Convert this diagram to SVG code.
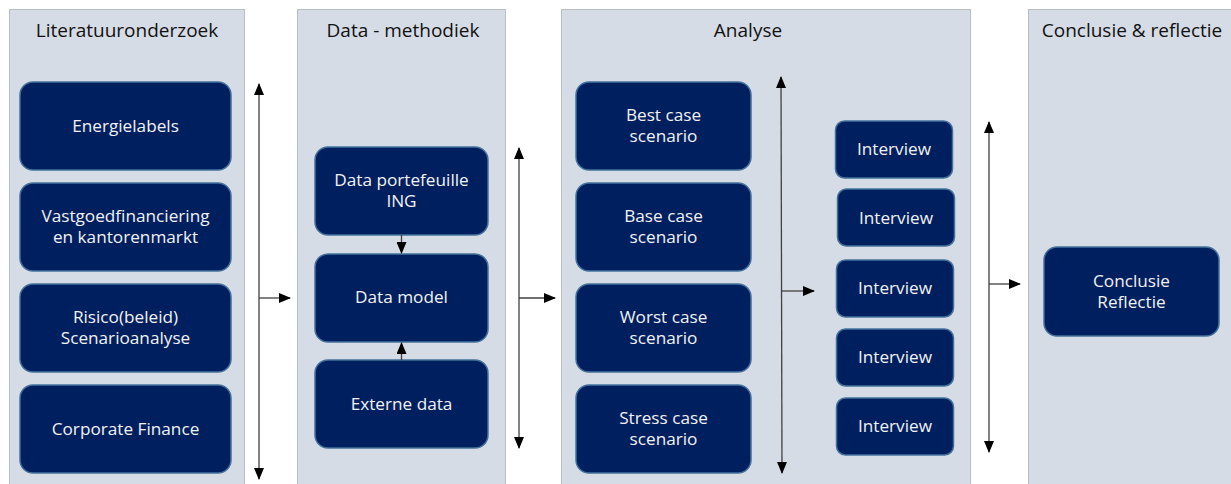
<svg xmlns="http://www.w3.org/2000/svg" width="1231" height="484" viewBox="0 0 1231 484">
  <style>
    .panel { fill: #D6DCE5; stroke: #B8BEC6; stroke-width: 1; }
    .title { font-family: "Open Sans", "Noto Sans", sans-serif; font-size: 19px; fill: #111111; text-anchor: middle; }
    .box { fill: #001F5F; stroke: #41719C; stroke-width: 1.5; }
    .label { font-family: "Open Sans", "Noto Sans", sans-serif; font-size: 17.2px; fill: #F2F2F2; text-anchor: middle; }
    .conn { stroke: #404040; stroke-width: 1.3; fill: none; }
  </style>
  <defs>
    <marker id="head" viewBox="0 0 12 10" refX="11" refY="5" markerWidth="12" markerHeight="10" markerUnits="userSpaceOnUse" orient="auto-start-reverse">
      <path d="M0,0 L12,5 L0,10 Z" fill="#000000"/>
    </marker>
  </defs>
  <rect width="1231" height="484" fill="#FFFFFF"/>

  <!-- column backgrounds -->
  <g id="panels">
    <rect class="panel" x="9.5" y="9.5" width="235" height="480"/>
    <rect class="panel" x="297.5" y="9.5" width="208" height="480"/>
    <rect class="panel" x="561.5" y="9.5" width="409" height="480"/>
    <rect class="panel" x="1028.5" y="9.5" width="210" height="480"/>
  </g>

  <g id="titles">
    <text class="title" x="127" y="37">Literatuuronderzoek</text>
    <text class="title" x="403" y="37">Data - methodiek</text>
    <text class="title" x="748" y="37">Analyse</text>
    <text class="title" x="1132" y="37">Conclusie &amp; reflectie</text>
  </g>

  <!-- literature column -->
  <g id="energielabels">
    <rect class="box" x="20" y="82" width="211" height="88" rx="13"/>
    <text class="label" x="125.5" y="132">Energielabels</text>
  </g>
  <g id="vastgoed">
    <rect class="box" x="20" y="183" width="211" height="88" rx="13"/>
    <text class="label" x="125.5" y="222">Vastgoedfinanciering</text>
    <text class="label" x="125.5" y="243">en kantorenmarkt</text>
  </g>
  <g id="risico">
    <rect class="box" x="20" y="284" width="211" height="88" rx="13"/>
    <text class="label" x="125.5" y="323">Risico(beleid)</text>
    <text class="label" x="125.5" y="344">Scenarioanalyse</text>
  </g>
  <g id="corporate-finance">
    <rect class="box" x="20" y="385" width="211" height="88" rx="13"/>
    <text class="label" x="125.5" y="435">Corporate Finance</text>
  </g>

  <!-- data column -->
  <g id="data-portefeuille">
    <rect class="box" x="315" y="147" width="173" height="88" rx="13"/>
    <text class="label" x="401.5" y="186">Data portefeuille</text>
    <text class="label" x="401.5" y="207">ING</text>
  </g>
  <g id="data-model">
    <rect class="box" x="315" y="254" width="173" height="88" rx="13"/>
    <text class="label" x="401.5" y="303">Data model</text>
  </g>
  <g id="externe-data">
    <rect class="box" x="315" y="360" width="173" height="88" rx="13"/>
    <text class="label" x="401.5" y="410">Externe data</text>
  </g>

  <!-- analysis column -->
  <g id="best-case">
    <rect class="box" x="576" y="82" width="175" height="88" rx="13"/>
    <text class="label" x="663.5" y="121">Best case</text>
    <text class="label" x="663.5" y="142">scenario</text>
  </g>
  <g id="base-case">
    <rect class="box" x="576" y="183" width="175" height="88" rx="13"/>
    <text class="label" x="663.5" y="222">Base case</text>
    <text class="label" x="663.5" y="243">scenario</text>
  </g>
  <g id="worst-case">
    <rect class="box" x="576" y="284" width="175" height="88" rx="13"/>
    <text class="label" x="663.5" y="323">Worst case</text>
    <text class="label" x="663.5" y="344">scenario</text>
  </g>
  <g id="stress-case">
    <rect class="box" x="576" y="385" width="175" height="88" rx="13"/>
    <text class="label" x="663.5" y="424">Stress case</text>
    <text class="label" x="663.5" y="445">scenario</text>
  </g>

  <g id="interview-1">
    <rect class="box" x="835.5" y="121" width="117" height="57" rx="9"/>
    <text class="label" x="894" y="155">Interview</text>
  </g>
  <g id="interview-2">
    <rect class="box" x="837.5" y="189" width="117" height="57" rx="9"/>
    <text class="label" x="896" y="224">Interview</text>
  </g>
  <g id="interview-3">
    <rect class="box" x="836.5" y="260" width="117" height="57" rx="9"/>
    <text class="label" x="895" y="294">Interview</text>
  </g>
  <g id="interview-4">
    <rect class="box" x="836.5" y="329" width="117" height="57" rx="9"/>
    <text class="label" x="895" y="363">Interview</text>
  </g>
  <g id="interview-5">
    <rect class="box" x="836.5" y="398" width="117" height="57" rx="9"/>
    <text class="label" x="895" y="432">Interview</text>
  </g>

  <!-- conclusion column -->
  <g id="conclusie">
    <rect class="box" x="1044" y="247" width="175" height="89" rx="13"/>
    <text class="label" x="1131.5" y="287">Conclusie</text>
    <text class="label" x="1131.5" y="308">Reflectie</text>
  </g>

  <!-- connectors -->
  <g id="connectors">
    <line class="conn" x1="259" y1="84" x2="259" y2="479" marker-start="url(#head)" marker-end="url(#head)"/>
    <line class="conn" x1="259" y1="298" x2="290" y2="298" marker-end="url(#head)"/>

    <line class="conn" x1="401.5" y1="235" x2="401.5" y2="253" marker-end="url(#head)"/>
    <line class="conn" x1="401.5" y1="360" x2="401.5" y2="343" marker-end="url(#head)"/>

    <line class="conn" x1="519" y1="148" x2="519" y2="448" marker-start="url(#head)" marker-end="url(#head)"/>
    <line class="conn" x1="519" y1="298" x2="555" y2="298" marker-end="url(#head)"/>

    <line class="conn" x1="781" y1="77" x2="782" y2="473" marker-start="url(#head)" marker-end="url(#head)"/>
    <line class="conn" x1="782" y1="291" x2="814" y2="291" marker-end="url(#head)"/>

    <line class="conn" x1="989" y1="122" x2="989" y2="452" marker-start="url(#head)" marker-end="url(#head)"/>
    <line class="conn" x1="989" y1="284" x2="1020" y2="284" marker-end="url(#head)"/>
  </g>
</svg>
